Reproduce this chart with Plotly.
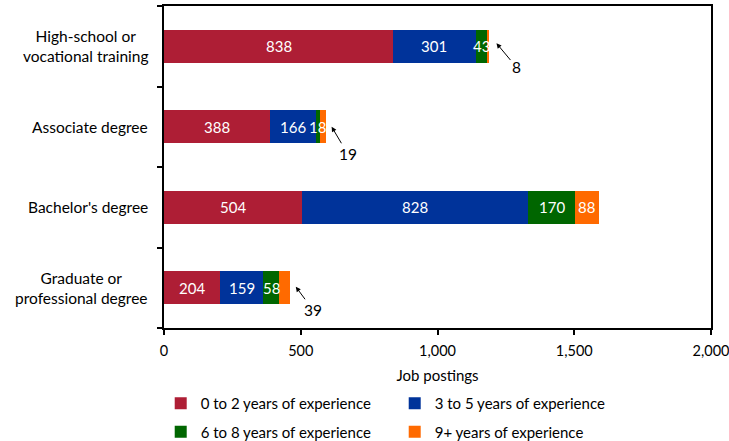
import plotly.graph_objects as go

# Education levels (top to bottom) and job postings by years of experience
categories = [
    "High-school or<br>vocational training",
    "Associate degree",
    "Bachelor's degree",
    "Graduate or<br>professional degree",
]
series_names = [
    "0 to 2 years of experience",
    "3 to 5 years of experience",
    "6 to 8 years of experience",
    "9+ years of experience",
]
exp_0_2 = [838, 388, 504, 204]
exp_3_5 = [301, 166, 828, 159]
exp_6_8 = [43, 18, 170, 58]
exp_9_plus = [8, 19, 88, 39]

x_ticks = [0, 500, 1000, 1500, 2000]

colors = ["#AE1E35", "#00339A", "#006600", "#FF6A00"]
FONT = "Lato, 'Open Sans', sans-serif"

series = [exp_0_2, exp_3_5, exp_6_8, exp_9_plus]

# Segments too narrow for an inside label get a callout arrow instead
callout = {0: (7, 3, 20, 24), 1: (6, 0, 16, 27), 3: (6, 1, 17, 23)}  # xshift, yshift, ax, ay

fig = go.Figure()
for i, (name, vals) in enumerate(zip(series_names, series)):
    fig.add_trace(go.Bar(
        y=categories, x=vals, name=name, orientation="h",
        marker=dict(color=colors[i], line=dict(width=0)),
        legend="legend" if i < 2 else "legend2",
        hoverinfo="skip",
    ))

annotations = []

# Value labels centred on each segment, drawn above all bars
start = [0] * len(categories)
for i, vals in enumerate(series):
    for k, v in enumerate(vals):
        if not (i == 3 and k in callout):
            annotations.append(dict(
                x=start[k] + v / 2, y=categories[k], xref="x", yref="y",
                text=str(v), showarrow=False, xanchor="center", yanchor="middle",
                font=dict(size=15, color="white", family=FONT),
            ))
        start[k] += v

totals = start
for k, (xs, ys, ax, ay) in callout.items():
    annotations.append(dict(
        x=totals[k], y=categories[k], xref="x", yref="y",
        text=str(exp_9_plus[k]), showarrow=True,
        arrowhead=2, arrowsize=1, arrowwidth=1, arrowcolor="black",
        ax=ax, ay=ay, xshift=xs, yshift=ys,
        font=dict(size=15.5, color="black", family=FONT),
    ))

# Category labels, centred line by line and right-aligned to the axis
for c in categories:
    annotations.append(dict(
        x=0, y=c, xref="paper", yref="y", xanchor="right", yanchor="middle",
        xshift=-14, text=c, showarrow=False, align="center",
        font=dict(size=15.5, color="black", family=FONT),
    ))

legend_style = dict(
    orientation="h", xanchor="left", yanchor="top",
    entrywidth=189, entrywidthmode="pixels", traceorder="normal",
    font=dict(size=15, family=FONT), bgcolor="rgba(0,0,0,0)",
)

fig.update_layout(
    barmode="stack",
    bargap=0.59,
    width=729, height=441,
    margin=dict(l=164, r=18, t=6, b=113, autoexpand=False),
    paper_bgcolor="white", plot_bgcolor="white",
    font=dict(family=FONT, size=15, color="black"),
    annotations=annotations,
    showlegend=True,
    legend=dict(x=-0.006, y=-0.1832, **legend_style),
    legend2=dict(x=-0.006, y=-0.2717, **legend_style),
)
fig.update_xaxes(
    range=[0, 2000], tickvals=x_ticks, ticktext=[f"{v:,}" for v in x_ticks],
    ticks="outside", ticklen=5, tickwidth=2, tickcolor="black",
    showline=True, linecolor="black", linewidth=2, mirror=True,
    showgrid=False, zeroline=False, ticklabeloverflow="allow",
    ticklabelstandoff=4,
    title=dict(text="Job postings", font=dict(size=15, family=FONT), standoff=12),
    tickfont=dict(size=14.5, family=FONT),
)
fig.update_yaxes(
    categoryorder="array", categoryarray=categories[::-1],
    showticklabels=False, tickson="boundaries",
    ticks="outside", ticklen=5, tickwidth=2, tickcolor="black",
    showline=True, linecolor="black", linewidth=2, mirror=True,
    showgrid=False, zeroline=False,
)

fig.write_html("out.html")
